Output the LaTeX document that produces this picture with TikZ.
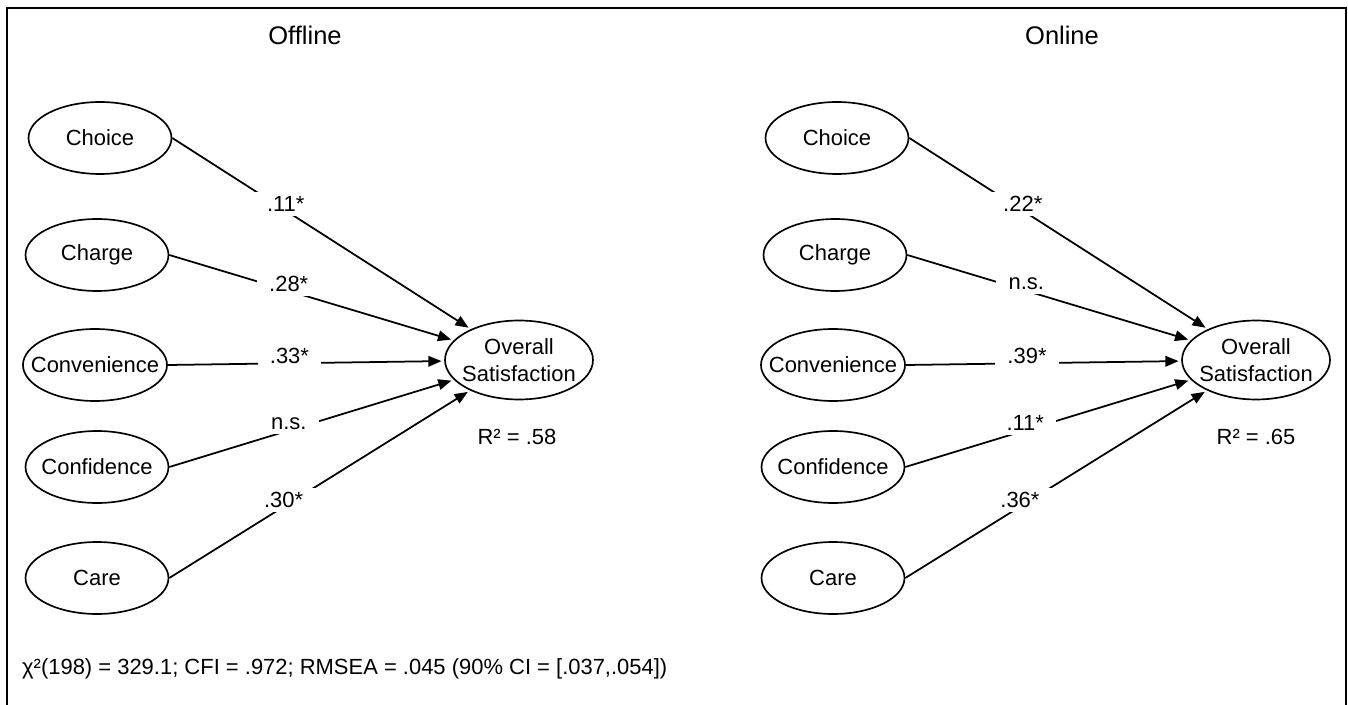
\documentclass[tikz,border=0pt]{standalone}
\usepackage{fontspec}
\setmainfont{Liberation Sans}
\usepackage{tikz}
\usetikzlibrary{shapes.geometric, arrows.meta, positioning}

\begin{document}
\begin{tikzpicture}[x=0.02cm, y=-0.02cm,
    factor/.style={draw, ellipse, line width=0.95pt, minimum width=2.86cm, minimum height=1.44cm,
      inner xsep=-7.5pt, inner ysep=1pt, font=\fontsize{12.5}{15}\selectfont},
    outcome/.style={factor, align=center, minimum width=2.96cm, minimum height=1.58cm, inner xsep=-6pt, inner ysep=2pt},
    path/.style={line width=1pt, shorten >=1.5pt, -{Triangle[length=7.5pt, width=6pt]}},
    coef/.style={fill=white, inner xsep=7pt, inner ysep=2.5pt, yshift=4pt, pos=0.42, font=\fontsize{12.5}{15}\selectfont},
    plain/.style={font=\fontsize{12.5}{15}\selectfont}]
  \useasboundingbox (0,0) rectangle (1348,705);
  \draw[line width=1.5pt] (7,710) -- (7,8) -- (1346,8) -- (1346,710);

  % offline model
  \node[plain, font=\fontsize{14.5}{17}\selectfont] (titleA) at (305,35) {Offline};
  \node[factor] (choiceA) at (100,138) {Choice};
  \node[factor] (chargeA) at (97,255) {Charge};
  \node[factor] (convA) at (95,365) {Convenience};
  \node[factor] (confA) at (97,467) {Confidence};
  \node[factor] (careA) at (97,578) {Care};
  \node[outcome] (satA) at (519,360) {Overall\\Satisfaction};
  \node[plain] (rsqA) at (517,437) {R² = .58};

  \draw[path] (choiceA.east) -- node[coef, pos=0.38] {.11*} (satA);
  \draw[path] (chargeA.east) -- node[coef] {.28*} (satA);
  \draw[path] (convA.east) -- node[coef, pos=0.44] {.33*} (satA);
  \draw[path] (confA.east) -- node[coef] {n.s.} (satA);
  \draw[path] (careA.east) -- node[coef, pos=0.38] {.30*} (satA);

  % online model
  \node[plain, font=\fontsize{14.5}{17}\selectfont] (titleB) at (1062,35) {Online};
  \node[factor] (choiceB) at (837,138) {Choice};
  \node[factor] (chargeB) at (835,255) {Charge};
  \node[factor] (convB) at (833,365) {Convenience};
  \node[factor] (confB) at (833,467) {Confidence};
  \node[factor] (careB) at (833,578) {Care};
  \node[outcome] (satB) at (1256,360) {Overall\\Satisfaction};
  \node[plain] (rsqB) at (1256,437) {R² = .65};

  \draw[path] (choiceB.east) -- node[coef, pos=0.38] {.22*} (satB);
  \draw[path] (chargeB.east) -- node[coef] {n.s.} (satB);
  \draw[path] (convB.east) -- node[coef, pos=0.44] {.39*} (satB);
  \draw[path] (confB.east) -- node[coef] {.11*} (satB);
  \draw[path] (careB.east) -- node[coef, pos=0.38] {.36*} (satB);

  % fit indices
  \node[plain, anchor=west] (fit) at (16,669) {χ²(198) = 329.1; CFI = .972; RMSEA = .045 (90\% CI = [.037,.054])};
\end{tikzpicture}
\end{document}
